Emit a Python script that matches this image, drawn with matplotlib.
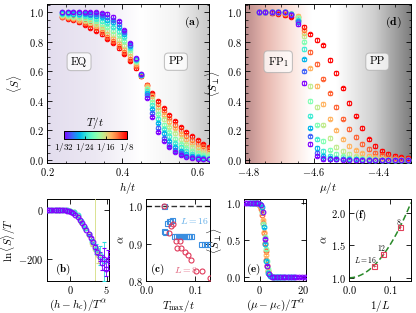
import numpy as np
import matplotlib
matplotlib.use("Agg")
import matplotlib.pyplot as plt
from matplotlib import colormaps
from matplotlib.colors import LinearSegmentedColormap, Normalize
from matplotlib.cm import ScalarMappable
from matplotlib.ticker import MultipleLocator

plt.rcParams.update({
    "font.family": "serif",
    "font.serif": ["cmr10"],
    "mathtext.fontset": "cm",
    "axes.formatter.use_mathtext": True,
    "font.size": 7.5,
    "axes.linewidth": 0.7,
    "xtick.direction": "in",
    "ytick.direction": "in",
    "xtick.top": True,
    "ytick.right": True,
    "xtick.major.size": 3.5,
    "ytick.major.size": 3.5,
    "xtick.minor.size": 1.8,
    "ytick.minor.size": 1.8,
    "xtick.major.width": 0.6,
    "ytick.major.width": 0.6,
    "xtick.minor.width": 0.5,
    "ytick.minor.width": 0.5,
    "xtick.major.pad": 2.5,
    "ytick.major.pad": 2.5,
})

# ---------------- data ----------------
# inverse temperatures t/T of the curves drawn in (a) and (d)
betas = [32, 29, 26, 23, 20, 17, 14, 11, 8]

# (a) <S> vs h/t
h_grid = [0.240, 0.255, 0.270, 0.285, 0.300, 0.315, 0.330, 0.345, 0.360, 0.375,
          0.390, 0.405, 0.420, 0.435, 0.450, 0.465, 0.480, 0.495, 0.510, 0.525,
          0.540, 0.555, 0.570, 0.585, 0.600, 0.615, 0.630]
S_b32 = [1.00, 1.00, 1.00, 1.00, 1.00, 1.00, 1.00, .995, .99, .97, .94, .88, .79, .69, .58,
         .42, .29, .19, .13, .09, .055, .035, .02, .012, .008, .006, .005]
S_b29 = [1.00, 1.00, 1.00, 1.00, .995, .99, .985, .98, .97, .95, .92, .865, .78, .685, .58,
         .44, .32, .22, .15, .105, .07, .045, .03, .02, .013, .009, .007]
S_b26 = [.995, .995, .99, .99, .985, .98, .975, .965, .95, .93, .90, .85, .77, .68, .575,
         .455, .345, .25, .18, .13, .09, .062, .043, .03, .02, .014, .01]
S_b23 = [.99, .988, .985, .98, .975, .965, .955, .94, .925, .90, .87, .83, .76, .675, .575,
         .47, .37, .28, .21, .16, .115, .085, .06, .043, .03, .021, .015]
S_b20 = [.985, .98, .975, .97, .96, .95, .94, .92, .90, .875, .845, .805, .745, .67, .575,
         .48, .39, .31, .24, .19, .145, .11, .082, .06, .045, .033, .025]
S_b17 = [.98, .975, .97, .96, .95, .935, .92, .90, .875, .85, .815, .775, .725, .66, .575,
         .49, .41, .335, .275, .225, .18, .14, .11, .085, .065, .05, .038]
S_b14 = [.975, .97, .96, .95, .94, .925, .905, .885, .855, .825, .79, .75, .705, .65, .575,
         .50, .43, .36, .305, .26, .215, .175, .14, .115, .09, .072, .057]
S_b11 = [.97, .962, .952, .94, .928, .91, .89, .865, .835, .805, .77, .73, .685, .635, .57,
         .505, .44, .38, .33, .285, .24, .20, .165, .138, .112, .092, .073]
S_b8 = [.965, .955, .945, .93, .915, .895, .875, .85, .82, .79, .755, .715, .67, .62, .565,
        .51, .455, .40, .35, .305, .265, .225, .19, .16, .135, .11, .09]

# (d) <S_perp> vs mu/t
mu_grid = [-4.77, -4.75, -4.73, -4.71, -4.69, -4.67, -4.65, -4.63, -4.61, -4.59, -4.57, -4.55,
           -4.53, -4.51, -4.49, -4.47, -4.45, -4.43, -4.41, -4.39, -4.37, -4.35, -4.33, -4.31]
P_b32 = [1, 1, 1, 1, 1, .98, .92, .52, .11, .03, .008, .005, .004, .003, .003, .002, .002,
         .002, .002, .002, .002, .002, .002, .002]
P_b29 = [1, 1, 1, 1, 1, .985, .93, .60, .16, .05, .015, .006, .005, .004, .003, .003, .002,
         .002, .002, .002, .002, .002, .002, .002]
P_b26 = [1, 1, 1, 1, 1, .99, .94, .68, .22, .08, .03, .012, .008, .006, .005, .004, .003,
         .003, .002, .002, .002, .002, .002, .002]
P_b23 = [1, 1, 1, 1, 1, .99, .95, .75, .30, .14, .06, .03, .016, .01, .008, .006, .005,
         .004, .003, .003, .002, .002, .002, .002]
P_b20 = [1, 1, 1, 1, 1, .99, .96, .80, .40, .24, .13, .07, .04, .025, .016, .01, .007,
         .005, .004, .003, .003, .002, .002, .002]
P_b17 = [1, 1, 1, 1, 1, .99, .97, .84, .50, .36, .24, .15, .09, .06, .04, .025, .017,
         .012, .008, .006, .004, .003, .003, .002]
P_b14 = [1, 1, 1, 1, .995, .99, .975, .86, .62, .50, .38, .28, .20, .14, .095, .065, .045,
         .03, .02, .013, .009, .006, .004, .003]
P_b11 = [1, 1, 1, .995, .99, .985, .97, .88, .73, .65, .55, .45, .36, .28, .21, .155, .11,
         .075, .05, .032, .021, .014, .009, .006]
P_b8 = [1, 1, .995, .99, .98, .97, .95, .90, .85, .81, .775, .675, .59, .485, .385, .30, .215,
        .14, .095, .063, .04, .027, .018, .013]

# (b) scaling collapse ln<S>/T vs (h-h_c)/T^alpha
b_x_32 = [-3.2, -2.9, -2.6, -2.3, -2.0, -1.7, -1.4, -1.1, -0.8, -0.5, -0.2, 0.1, 0.4, 0.7,
          1.0, 1.3, 1.6, 1.9, 2.2, 2.5, 2.8, 3.1, 3.4, 3.7, 4.0, 4.3, 4.6, 4.9, 5.2, 5.5]
b_y_32 = [0, 0, 0, 0, 0, 0, 0, -0.5, -1, -2, -4, -7, -12, -19, -28, -40, -53, -67, -82, -98,
          -114, -131, -150, -172, -190, -215, -200, -240, -205, -195]
b_e_32 = [0, 0, 0, 0, 0, 0, 0, 0, 0, 0, 0, 0, 0, 0, 0, 0, 0, 0, 1, 2, 3, 5, 8, 12, 20, 30,
          45, 30, 40, 25]
b_x_24 = [-3.0, -2.5, -2.0, -1.5, -1.0, -0.5, 0.0, 0.5, 1.0, 1.5, 2.0, 2.5, 3.0, 3.5, 4.1, 4.6]
b_y_24 = [0, 0, 0, 0, 0, -1, -3, -8, -22, -45, -72, -100, -128, -160, -185, -210]
b_e_24 = [0, 0, 0, 0, 0, 0, 0, 0, 0, 1, 2, 4, 10, 20, 40, 80]
b_x_16 = [-2.5, -2.0, -1.5, -1.0, -0.5, 0.0, 0.5, 1.0, 1.5, 2.0, 2.5, 3.0, 3.4, 3.8]
b_y_16 = [0, 0, 0, 0, -1, -3, -9, -24, -47, -75, -103, -135, -160, -185]
b_e_16 = [0, 0, 0, 0, 0, 0, 0, 0, 1, 2, 4, 10, 400, 30]

# (c) alpha vs T_max/t
c_T_L16 = [0.036, 0.044, 0.047, 0.050, 0.053, 0.036, 0.039, 0.057, 0.061, 0.065, 0.069,
           0.073, 0.077, 0.081, 0.085, 0.089, 0.093, 0.113, 0.119, 0.125, 0.131]
c_a_L16 = [1.0, 0.955, 0.96, 0.962, 0.965, 0.935, 0.932, 0.92, 0.92, 0.92, 0.92, 0.92, 0.92,
           0.92, 0.92, 0.92, 0.92, 0.90, 0.90, 0.90, 0.90]
c_T_L8 = [0.036, 0.051, 0.055, 0.048, 0.061, 0.069, 0.064, 0.071, 0.079, 0.086, 0.093, 0.103,
          0.114, 0.130]
c_a_L8 = [1.0, 0.947, 0.952, 0.928, 0.908, 0.908, 0.888, 0.888, 0.878, 0.869, 0.856, 0.826,
          0.828, 0.808]

# (e) collapse <S_perp> vs (mu-mu_c)/T^alpha
e_x_32 = [-6.9, -5.6, -4.4, -3.1, -1.8, -0.5, 0.8, 1.4, 2.3, 3.4, 4.3, 5.6, 6.9, 8.2, 9.4,
          10.7, 12.0, 13.3, 14.6, 15.8, 17.1, 18.4, 19.7, 21.0]
e_y_32 = [1.0, 1.0, 1.0, 1.0, 1.0, 1.0, 0.98, 0.89, 0.52, 0.15, 0.04, 0.008, 0.005, 0.004,
          0.003, 0.003, 0.002, 0.002, 0.002, 0.002, 0.002, 0.002, 0.002, 0.002]
e_x_26 = [-5.0, -4.0, -3.0, -2.0, -1.0, 0.0, 1.0, 2.0, 2.6, 3.2, 4.0, 5.0, 6.0, 7.0, 8.0,
          9.0, 10.0, 11.0, 12.0, 13.0, 14.0, 15.0, 16.0]
e_y_26 = [1.0, 1.0, 1.0, 1.0, 1.0, 0.99, 0.95, 0.68, 0.45, 0.22, 0.06, 0.02, 0.01, 0.008,
          0.006, 0.005, 0.004, 0.003, 0.003, 0.002, 0.002, 0.002, 0.002]
e_x_20 = [-4.0, -3.2, -2.4, -1.6, -0.8, 0.0, 0.8, 1.3, 1.8, 2.3, 2.8, 3.3, 3.8, 4.4, 5.2,
          6.0, 6.8, 7.6, 8.4, 9.2, 10.0]
e_y_20 = [1.0, 1.0, 1.0, 1.0, 1.0, 0.99, 0.96, 0.88, 0.72, 0.55, 0.38, 0.22, 0.11, 0.05,
          0.02, 0.01, 0.007, 0.005, 0.004, 0.003, 0.003]
e_x_14 = [-3.0, -2.4, -1.8, -1.2, -0.6, 0.0, 0.5, 1.0, 1.5, 2.0, 2.5, 3.0, 3.5, 4.0, 4.5,
          5.0, 5.5, 6.0]
e_y_14 = [1.0, 1.0, 1.0, 1.0, 0.995, 0.99, 0.97, 0.9, 0.78, 0.62, 0.45, 0.3, 0.17, 0.09,
          0.05, 0.025, 0.015, 0.01]
e_x_11 = [-2.0, -1.6, -1.2, -0.8, -0.4, 0.0, 0.4, 0.8, 1.2, 1.6, 2.0, 2.4, 2.8, 3.2, 3.6, 4.0]
e_y_11 = [1.0, 1.0, 1.0, 0.995, 0.99, 0.985, 0.97, 0.93, 0.85, 0.74, 0.6, 0.47, 0.35, 0.24,
          0.15, 0.09]

# (f) alpha vs 1/L
L_sizes = [8, 12, 16]
alpha_L = [1.78, 1.37, 1.19]
alpha_L_err = [0.03, 0.03, 0.03]

cbar_ticklabels = ["$1/32$", "$1/24$", "$1/16$", "$1/8$"]

# ---------------- helpers ----------------
rainbow = colormaps["rainbow"]


def beta_color(b):
    return rainbow((32 - b) / 24)


def shade(ax, stops, xlim, ylim):
    cmap = LinearSegmentedColormap.from_list("bg", stops)
    ax.imshow(np.linspace(0, 1, 256)[None, :], cmap=cmap, aspect="auto",
              extent=[xlim[0], xlim[1], ylim[0], ylim[1]], zorder=0, interpolation="bilinear")
    ax.set_xlim(*xlim)
    ax.set_ylim(*ylim)


def tag(ax, x, y, s):
    ax.text(x, y, s, transform=ax.transAxes, ha="center", va="center", fontsize=8,
            bbox=dict(boxstyle="round,pad=0.35", fc="white", ec="#b0b0b0", lw=0.8, alpha=0.75))


def open_pts(ax, x, y, c, yerr=None, ms=3.2, marker="o"):
    ax.errorbar(x, y, yerr=yerr, fmt=marker, ms=ms, mfc="none", mec=c, mew=0.8,
                ecolor=c, elinewidth=0.6, capsize=1.2, capthick=0.6, zorder=3)


fig = plt.figure(figsize=(4.16, 3.13), dpi=100)
W, H = 416, 313


def px_axes(l, r, t, b):
    return fig.add_axes([l / W, (H - b) / H, (r - l) / W, (b - t) / H])


ax_a = px_axes(47, 209, 4, 163)
ax_d = px_axes(245, 411, 4, 163)
ax_b = px_axes(47, 109, 199, 281)
ax_c = px_axes(146, 210, 199, 281)
ax_e = px_axes(244, 306, 199, 281)
ax_f = px_axes(349, 411, 199, 281)

# ---------------- (a) ----------------
S_all = [S_b32, S_b29, S_b26, S_b23, S_b20, S_b17, S_b14, S_b11, S_b8]
shade(ax_a, [(0, "#e3ddee"), (0.3, "#ece8f3"), (0.58, "#ffffff"), (0.8, "#f3f3f3"),
             (1.0, "#c9c9c9")], (0.2, 0.63), (-0.02, 1.055))
for b, S in reversed(list(zip(betas, S_all))):
    open_pts(ax_a, h_grid, S, beta_color(b), yerr=0.008)
ax_a.xaxis.set_major_locator(MultipleLocator(0.2))
ax_a.xaxis.set_minor_locator(MultipleLocator(0.05))
ax_a.yaxis.set_major_locator(MultipleLocator(0.2))
ax_a.yaxis.set_minor_locator(MultipleLocator(0.05))
ax_a.set_xlabel("$h/t$", fontsize=8, labelpad=1)
ax_a.set_ylabel(r"$\langle S\rangle$", fontsize=8, labelpad=3)
tag(ax_a, 0.198, 0.637, "EQ")
tag(ax_a, 0.796, 0.637, "PP")
ax_a.text(0.893, 0.885, r"$\mathbf{(a)}$", transform=ax_a.transAxes, ha="center", va="center",
          fontsize=8.5)

cax = ax_a.inset_axes([0.104, 0.149, 0.389, 0.054])
sm = ScalarMappable(norm=Normalize(-32, -8), cmap=rainbow)
cb = fig.colorbar(sm, cax=cax, orientation="horizontal")
cb.set_ticks([-32, -24, -16, -8])
cb.set_ticklabels(cbar_ticklabels)
cb.outline.set_linewidth(0.7)
cax.tick_params(which="both", direction="in", length=2, labelsize=6.5, pad=1.5, top=False)
cax.minorticks_off()
cax.set_title("$T/t$", fontsize=8, pad=1.5)

# ---------------- (d) ----------------
P_all = [P_b32, P_b29, P_b26, P_b23, P_b20, P_b17, P_b14, P_b11, P_b8]
shade(ax_d, [(0, "#b98b8b"), (0.12, "#e7b6ae"), (0.27, "#fbe3dc"), (0.4, "#ffffff"),
             (0.55, "#ffffff"), (0.78, "#cfcfcf"), (1.0, "#7e7e7e")], (-4.812, -4.30), (-0.02, 1.055))
for b, P in reversed(list(zip(betas, P_all))):
    open_pts(ax_d, mu_grid, P, beta_color(b), yerr=0.012)
ax_d.xaxis.set_major_locator(MultipleLocator(0.2))
ax_d.xaxis.set_minor_locator(MultipleLocator(0.05))
ax_d.yaxis.set_major_locator(MultipleLocator(0.2))
ax_d.yaxis.set_minor_locator(MultipleLocator(0.05))
ax_d.set_xlabel(r"$\mu/t$", fontsize=8, labelpad=1)
ax_d.set_ylabel(r"$\langle S_{\perp}\rangle$", fontsize=8, labelpad=3)
tag(ax_d, 0.2, 0.637, "FP$_1$")
tag(ax_d, 0.797, 0.637, "PP")
ax_d.text(0.893, 0.885, r"$\mathbf{(d)}$", transform=ax_d.transAxes, ha="center", va="center",
          fontsize=8.5)

# ---------------- (b) ----------------
for b, x, y, e in [(16, b_x_16, b_y_16, b_e_16), (24, b_x_24, b_y_24, b_e_24),
                   (32, b_x_32, b_y_32, b_e_32)]:
    open_pts(ax_b, x, y, beta_color(b), yerr=e, ms=3.4)
ax_b.set_xlim(-3.2, 5.3)
ax_b.set_ylim(-290, 45)
ax_b.set_xticks([0, 5])
ax_b.set_yticks([0, -200])
ax_b.set_xlabel(r"$(h-h_c)/T^{\alpha}$", fontsize=8, labelpad=1)
ax_b.set_ylabel(r"$\ln\langle S\rangle/T$", fontsize=8)
ax_b.yaxis.set_label_coords(-0.47, 0.5)
ax_b.text(0.26, 0.14, r"$\mathbf{(b)}$", transform=ax_b.transAxes, ha="center", va="center",
          fontsize=8)

# ---------------- (c) ----------------
ax_c.axhline(1.0, color="#333333", lw=1.0, ls=(0, (4, 2)), zorder=1)
ax_c.plot(c_T_L16, c_a_L16, "s", ms=3.6, mfc="none", mec="#3a8ee0", mew=0.8, zorder=3)
ax_c.plot(c_T_L8, c_a_L8, "o", ms=3.6, mfc="none", mec="#e0395a", mew=0.8, zorder=3)
ax_c.set_xlim(0, 0.131)
ax_c.set_ylim(0.8, 1.02)
ax_c.set_xticks([0.0, 0.1])
ax_c.set_yticks([0.8, 0.9, 1.0])
ax_c.set_xlabel(r"$T_{\max}/t$", fontsize=8, labelpad=1)
ax_c.set_ylabel(r"$\alpha$", fontsize=8, labelpad=1)
ax_c.text(0.76, 0.73, "$L=16$", transform=ax_c.transAxes, ha="center", va="center",
          fontsize=7, color="#62aee8")
ax_c.text(0.62, 0.14, "$L=8$", transform=ax_c.transAxes, ha="center", va="center",
          fontsize=7, color="#e0607a")
ax_c.text(0.18, 0.14, r"$\mathbf{(c)}$", transform=ax_c.transAxes, ha="center", va="center",
          fontsize=8)

# ---------------- (e) ----------------
for b, x, y in [(11, e_x_11, e_y_11), (14, e_x_14, e_y_14), (20, e_x_20, e_y_20),
                (26, e_x_26, e_y_26), (32, e_x_32, e_y_32)]:
    open_pts(ax_e, x, y, beta_color(b), yerr=0.01, ms=3.4)
ax_e.set_xlim(-7.2, 21.5)
ax_e.set_ylim(-0.05, 1.06)
ax_e.set_xticks([0, 20])
ax_e.set_yticks([0.0, 0.5, 1.0])
ax_e.set_xlabel(r"$(\mu-\mu_c)/T^{\alpha}$", fontsize=8, labelpad=1)
ax_e.set_ylabel(r"$\langle S_{\perp}\rangle$", fontsize=8, labelpad=1)
ax_e.text(0.15, 0.14, r"$\mathbf{(e)}$", transform=ax_e.transAxes, ha="center", va="center",
          fontsize=8)

# ---------------- (f) ----------------
inv_L = 1.0 / np.array(L_sizes, dtype=float)
alpha_arr = np.array(alpha_L)
c2 = np.sum(inv_L ** 2 * (alpha_arr - 1)) / np.sum(inv_L ** 4)
xf = np.linspace(0, 0.152, 100)
ax_f.plot(xf, 1 + c2 * xf ** 2, color="#2a8a2a", lw=1.1, ls=(0, (4, 2)), zorder=2)
ax_f.errorbar(inv_L, alpha_L, yerr=alpha_L_err, xerr=0.003, fmt="s", ms=3.6, mfc="none",
              mec="#e0405a", mew=0.8, ecolor="#e0405a", elinewidth=0.6, zorder=3)
ax_f.set_xlim(0, 0.152)
ax_f.set_ylim(0.95, 2.22)
ax_f.set_xticks([0.0, 0.1])
ax_f.set_yticks([1.0, 1.5, 2.0])
ax_f.set_xlabel("$1/L$", fontsize=8, labelpad=1)
ax_f.set_ylabel(r"$\alpha$", fontsize=8, labelpad=1)
for L, x, y in zip(L_sizes, inv_L, alpha_L):
    s = "$L=16$" if L == 16 else "$%d$" % L
    dx = -0.022 if L == 16 else -0.004
    ax_f.text(x + dx, y + 0.09, s, ha="center", va="center", fontsize=5.5)
ax_f.text(0.19, 0.8, r"$\mathbf{(f)}$", transform=ax_f.transAxes, ha="center", va="center",
          fontsize=8)

for ax in [ax_b, ax_c, ax_e, ax_f, ax_a, ax_d]:
    ax.tick_params(labelsize=7.5)

fig.savefig("out.png", dpi=100)
